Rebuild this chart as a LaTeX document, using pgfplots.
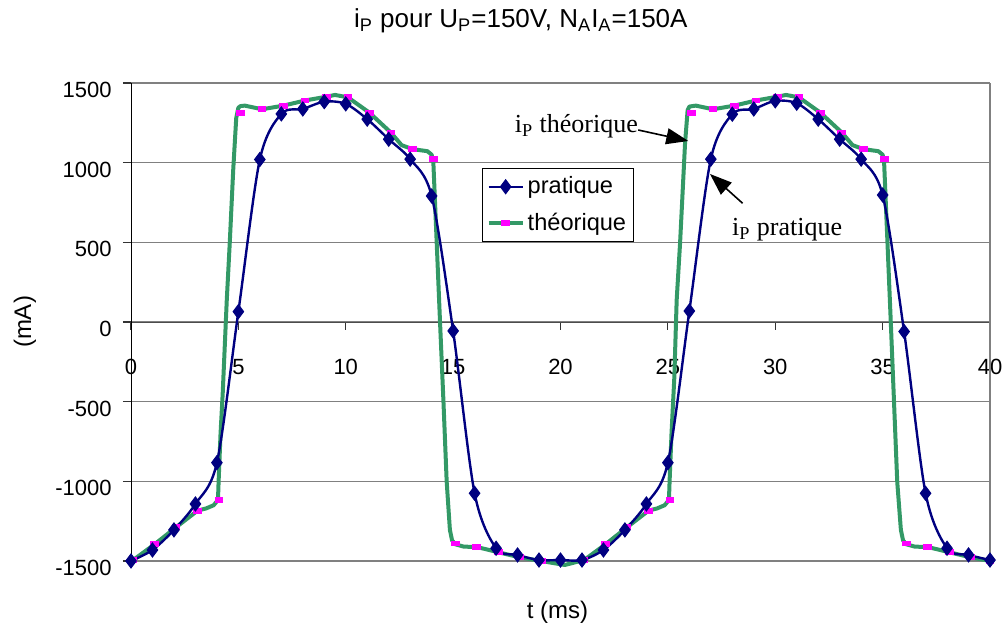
\documentclass[border=0pt]{standalone}
\usepackage{pgfplots}
\pgfplotsset{compat=1.18}
\usepackage{fontspec}
\setmainfont{Liberation Sans}
\newfontfamily\tnr{Liberation Serif}
\usetikzlibrary{arrows.meta}
\definecolor{prat}{HTML}{000080}
\definecolor{theo}{HTML}{339966}
\definecolor{mag}{HTML}{FF00FF}
\definecolor{gridgray}{HTML}{808080}
\begin{document}
\begin{tikzpicture}
\path[use as bounding box] (-65.5pt,-37.5pt) rectangle (438pt,280.5pt);
\begin{axis}[
  at={(0,0)}, anchor=south west,
  scale only axis, width=429.5pt, height=239pt,
  xmin=0, xmax=40, ymin=-1500, ymax=1500,
  axis x line=middle, axis y line=left,
  axis line style={-},
  x axis line style={draw=black!70},
  y axis line style={draw=black},
  hide obscured x ticks=false, hide obscured y ticks=false,
  xtick={0,5,...,40}, xticklabels={0,5,10,15,20,25,30,35,40},
  ytick={-1500,-1000,...,1500},
  yticklabels={-1500,-1000,-500,0,500,1000,1500},
  xtick align=outside, ytick align=outside,
  major tick length=4pt,
  tick style={black!80, line width=0.6pt},
  ymajorgrids, major grid style={gridgray, line width=0.8pt},
  xticklabel style={anchor=center, yshift=-18.5pt, font=\fontsize{11}{13}\selectfont},
  yticklabel style={anchor=east, inner sep=0pt, xshift=-5.5pt, yshift=-3.5pt, font=\fontsize{11}{13}\selectfont},
  clip=false,
  legend style={at={(0.4086,0.822)}, anchor=north west, draw=black, fill=white,
    line width=0.6pt, inner xsep=2pt, inner ysep=2.5pt, row sep=5pt,
    font=\fontsize{11.8}{14}\selectfont, nodes={inner sep=1.5pt}},
  legend cell align=left,
]
\addlegendimage{prat, line width=1.2pt, mark=diamond*, mark size=3.5pt, mark options={fill=prat, line width=0.5pt}}
\addlegendentry{pratique}
\addlegendimage{theo, line width=2pt, mark=square*, mark size=1.2pt, mark options={mag, fill=mag, line width=0pt, xscale=1.6}}
\addlegendentry{théorique}

\draw[gridgray, line width=0.8pt] (rel axis cs:1,0) -- (rel axis cs:1,1);

% theoretical (green line)
\addplot[forget plot, theo, line width=2pt, line join=round, no marks] coordinates {
(0.1,-1494) (1.1,-1395) (2.1,-1288) (3.1,-1184) (3.5,-1170) (3.85,-1150) (4.05,-1117)
(4.08,-1000) (4.17,-700) (4.27,-450) (4.46,138) (4.6,500) (4.76,955) (4.9,1280)
(5.0,1345) (5.1,1355) (5.3,1358) (6.1,1335) (7.1,1358) (8.1,1390) (9.1,1414)
(9.5,1425) (10.1,1410) (11.1,1314) (12.1,1189) (12.6,1110) (13.1,1085) (13.8,1072)
(14.0,1050) (14.08,1000) (14.23,515) (14.39,0) (14.55,-500) (14.70,-1002)
(14.85,-1305) (14.95,-1370) (15.1,-1395) (15.5,-1410) (16.1,-1412) (17.1,-1445)
(18.1,-1477) (19.1,-1500) (20.2,-1525) (21.1,-1494)
(22.1,-1395) (23.1,-1288) (24.1,-1184) (24.5,-1170) (24.85,-1150) (25.05,-1117)
(25.08,-1000) (25.17,-698) (25.3,-350) (25.41,138) (25.57,500) (25.8,1122)
(25.92,1330) (26.0,1352) (26.3,1358) (27.1,1335) (28.1,1358) (29.1,1390)
(30.1,1414) (30.5,1425) (31.1,1410) (32.1,1314) (33.1,1189) (33.6,1110)
(34.1,1085) (34.8,1072) (35.0,1050) (35.07,1000) (35.22,515) (35.38,0)
(35.53,-500) (35.68,-1002) (35.85,-1305) (35.95,-1370) (36.1,-1395) (36.5,-1410)
(37.1,-1412) (38.1,-1445) (39.1,-1477) (40.0,-1500)
};
% theoretical markers
\addplot[forget plot, only marks, mark=square*, mark size=1.2pt, mark options={mag, fill=mag, line width=0pt, xscale=1.6}] coordinates {
(0.1,-1494) (1.1,-1395) (2.1,-1288) (3.1,-1184) (4.1,-1117) (5.1,1310) (6.1,1335)
(7.1,1358) (8.1,1390) (9.1,1414) (10.1,1411) (11.1,1314) (12.1,1189) (13.1,1085)
(14.1,1022) (15.1,-1390) (16.1,-1412) (17.1,-1445) (18.1,-1477) (19.1,-1500)
(21.1,-1494) (22.1,-1395) (23.1,-1288) (24.1,-1184) (25.1,-1117) (26.1,1310)
(27.1,1335) (28.1,1358) (29.1,1390) (30.1,1414) (31.1,1411) (32.1,1314)
(33.1,1189) (34.1,1085) (35.1,1022) (36.1,-1390) (37.1,-1412) (38.1,-1445)
(39.1,-1477) (40.0,-1500)
};
% pratique
\addplot[forget plot, prat, line width=1.2pt, smooth, mark=diamond*, mark size=3.5pt, mark options={fill=prat, line width=0.5pt}] coordinates {
(0,-1500) (1,-1431) (2,-1305) (3,-1142) (4,-883) (5,65) (6,1020) (7,1306) (8,1337)
(9,1383) (10,1369) (11,1273) (12,1147) (13,1022) (14,791) (15,-56) (16,-1075)
(17,-1420) (18,-1462) (19,-1494) (20,-1494) (21,-1494) (22,-1431) (23,-1305)
(24,-1142) (25,-883) (26,69) (27,1022) (28,1304) (29,1337) (30,1388) (31,1373)
(32,1273) (33,1147) (34,1022) (35,797) (36,-60) (37,-1075) (38,-1420) (39,-1462)
(40,-1494)
};

\node[anchor=base east, inner sep=0pt, font=\tnr\fontsize{13}{15}\selectfont] at (axis cs:23.62,1188) {i\textsubscript{P} théorique};
\draw[line width=0.8pt, -{Triangle[length=11pt, width=8pt]}] (axis cs:23.62,1205) -- (axis cs:25.95,1136);
\node[anchor=base west, inner sep=0pt, font=\tnr\fontsize{13}{15}\selectfont] at (axis cs:27.97,542) {i\textsubscript{P} pratique};
\draw[line width=0.8pt, -{Triangle[length=11pt, width=8pt]}] (axis cs:28.48,745) -- (axis cs:26.96,929);
\end{axis}
\node[font=\fontsize{13}{15}\selectfont] at (194.9pt,270pt) {i\textsubscript{P} pour U\textsubscript{P}=150V, N\textsubscript{A}I\textsubscript{A}=150A};
\node[font=\fontsize{12}{14}\selectfont] at (213.25pt,-25.5pt) {t (ms)};
\node[rotate=90, font=\fontsize{12}{14}\selectfont] at (-53pt,119.5pt) {(mA)};
\end{tikzpicture}
\end{document}
